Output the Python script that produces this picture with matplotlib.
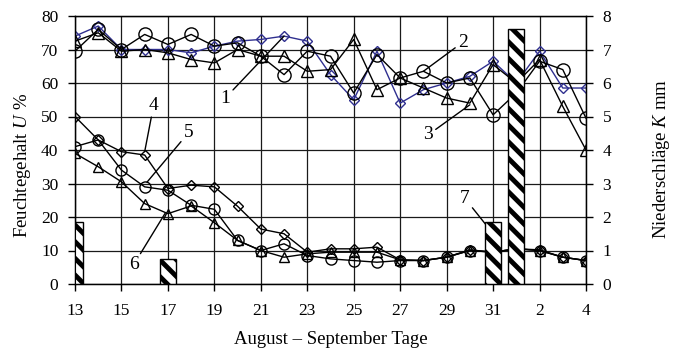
import matplotlib
matplotlib.use('Agg')
import matplotlib.pyplot as plt
import numpy as np

# ---------------- data ----------------
days = ['13', '14', '15', '16', '17', '18', '19', '20', '21', '22', '23', '24',
        '25', '26', '27', '28', '29', '30', '31', '1', '2', '3', '4']
tick_labels = ['13', '15', '17', '19', '21', '23', '25', '27', '29', '31', '2', '4']

# upper group (U %)
s1_diamond = [74, 77, 70, 70, 70, 69, 71, 72.5, 73, 74, 72.5, 62.5, 55, 69.5,
              54, 58, 60, 62, 66.5, 60, 69.5, 58.5, 58.5]
s2_circle = [69.5, 76, 70, 74.5, 71.5, 74.5, 71, 72, 68, 62.5, 69.5, 68, 57, 68.5,
             61.5, 63.5, 60, 61.5, 50.5, 57, 66.5, 64, 49.5]
s3_triangle = [72.5, 75, 69.5, 70, 69, 67, 66, 70, 68, 68, 63.5, 64, 73, 58,
               61.5, 58.5, 55.5, 54, 65.5, 60, 67, 53, 40]
# lower group (U %)
s4_diamond = [50, 43, 39.5, 38.5, 28.5, 29.5, 29, 23.2, 16.4, 15, 9.5, 10.5, 10.5,
              11, 7.2, 7, 8, 10.2, 9.5, 10.5, 10.2, 8, 7]
s5_circle = [41, 43, 34, 29, 28, 23.5, 22.3, 13, 10, 12, 8.5, 7.5, 7, 6.5, 7, 7,
             8, 10, 9.5, 10.5, 10, 8, 7]
s6_triangle = [39, 35, 30.5, 24, 21, 23.3, 18.3, 13, 10, 8, 9, 9.5, 9.5, 9.5,
               7.2, 7, 8, 10, 9.5, 10.5, 10, 8, 7]
# precipitation (K mm)
rain_days = ['13', '17', '31', '1']
rain_mm = [1.85, 0.75, 1.85, 7.6]

# ---------------- style ----------------
plt.rcParams['font.family'] = ['Liberation Serif', 'DejaVu Serif']
plt.rcParams['mathtext.fontset'] = 'custom'
plt.rcParams['mathtext.rm'] = 'Liberation Serif'
plt.rcParams['mathtext.it'] = 'Liberation Serif:italic'
plt.rcParams['hatch.linewidth'] = 3.5

W, H = 673, 356
fig = plt.figure(figsize=(W / 100, H / 100), dpi=100)
L, R, T, B = 75, 586, 16, 284
ax = fig.add_axes([L / W, 1 - B / H, (R - L) / W, (B - T) / H])

x = np.arange(len(days))
tick_idx = [days.index(t) if t not in ('2', '4') else len(days) - (3 if t == '2' else 1)
            for t in tick_labels]

ax.set_xlim(0, len(days) - 1)
ax.set_ylim(0, 80)
ax.set_yticks(np.arange(0, 81, 10))
ax.set_xticks(tick_idx)
ax.set_xticklabels(tick_labels)
ax.grid(True, color='#1a1a1a', lw=0.9)
ax.set_axisbelow(True)
for sp in ax.spines.values():
    sp.set_linewidth(1.0)
ax.tick_params(axis='both', direction='out', length=5, width=1, labelsize=12.5, pad=7)
ax.tick_params(axis='x', pad=9)

blue = '#2f2f8f'
kw = dict(lw=1.0, mfc='none', mew=1.0)
ax.plot(x, s1_diamond, color=blue, marker='D', ms=5, mec=blue, **kw)
ax.plot(x, s2_circle, color='black', marker='o', ms=9.5, mec='black', **kw)
ax.plot(x, s3_triangle, color='black', marker='^', ms=8, mec='black', **kw)
ax.plot(x, s4_diamond, color='black', marker='D', ms=5, mec='black', **kw)
ax.plot(x, s5_circle, color='black', marker='o', ms=8, mec='black', **kw)
ax.plot(x, s6_triangle, color='black', marker='^', ms=7, mec='black', **kw)

ax2 = ax.twinx()
ax2.set_ylim(0, 8)
ax2.set_yticks(np.arange(0, 9, 1))
ax2.tick_params(axis='y', direction='out', length=5, width=1, labelsize=12.5, pad=7)
rain_pos = [days.index(d) for d in rain_days]
ax2.bar(rain_pos, rain_mm, width=0.7, color='white', edgecolor='black',
        hatch='\\\\', lw=1.0)

# annotation labels
ann = dict(arrowprops=dict(arrowstyle='-', color='black', lw=1.0, shrinkA=0, shrinkB=0),
           fontsize=14, ha='center', va='center')
ax.annotate('1', xy=(9, 74), xytext=(6.47, 55.5), **ann)
ax.annotate('2', xy=(15, 63.5), xytext=(16.7, 72.2), **ann)
ax.annotate('3', xy=(17, 53.5), xytext=(15.2, 44.5), **ann)
ax.annotate('4', xy=(3, 39.5), xytext=(3.38, 53.2), **ann)
ax.annotate('5', xy=(3.1, 30.4), xytext=(4.89, 45.2), **ann)
ax.annotate('6', xy=(3.88, 21.1), xytext=(2.52, 5.7), **ann)
ax.annotate('7', xy=(17.76, 17.1), xytext=(16.78, 25.6), **ann)

fig.text(23 / W, 1 - 165 / H, 'Feuchtegehalt $U$ %', rotation=90, ha='center',
         va='center', fontsize=13.5)
fig.text(662 / W, 1 - 159 / H, 'Niederschläge $K$ mm', rotation=90, ha='center',
         va='center', fontsize=13.5)
fig.text((L + R) / 2 / W, 1 - 340 / H, 'August – September Tage', ha='center',
         va='center', fontsize=13.5)

fig.savefig('out.png', dpi=100)
